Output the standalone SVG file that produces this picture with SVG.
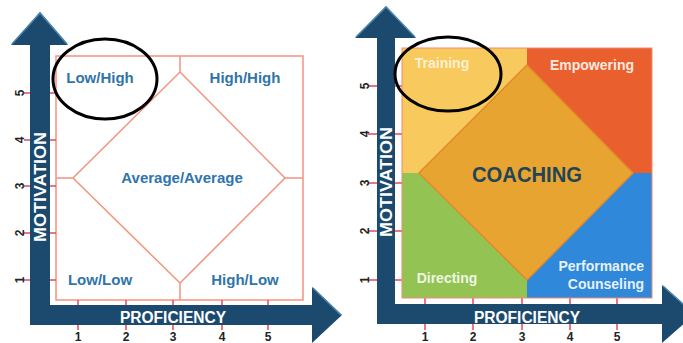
<svg xmlns="http://www.w3.org/2000/svg" width="683" height="343" viewBox="0 0 683 343">
<defs>
<style>
.axis{fill:#1c4a6e}
.bevel{fill:none;stroke:#4a86b0;stroke-width:1.5}
.tick{stroke:#e8485a;stroke-width:1.5}
.num{font-family:"Liberation Sans",Arial,sans-serif;font-size:12px;font-weight:bold;fill:#222}
.axlab{font-family:"Liberation Sans",Arial,sans-serif;font-size:16px;font-weight:bold;fill:#ffffff}
.qlab{font-family:"Liberation Sans",Arial,sans-serif;font-size:15px;font-weight:bold;fill:#2f75aa;text-anchor:middle}
.rlab{font-family:"Liberation Sans",Arial,sans-serif;font-size:14px;font-weight:bold}
.salmon{fill:none;stroke:#f4937d;stroke-width:1.5}
.circ{fill:none;stroke:#000;stroke-width:3}
</style>
</defs>
<rect width="683" height="343" fill="#ffffff"/>

<!-- LEFT CHART -->
<g id="left-grid">
  <rect x="56" y="56" width="247" height="244" class="salmon" fill="#fff"/>
  <path class="salmon" d="M180 56V72M180 283V300M56 178H73M285 178H303M180 72L285 178L180 283L73 178Z"/>
</g>
<g id="left-axes">
  <rect class="axis" x="30" y="44" width="20" height="281"/>
  <rect class="axis" x="30" y="305" width="283" height="20"/>
  <polygon class="axis" points="11,45 40,12 68,45"/>
  <polyline class="bevel" points="12,44 40,13 67,44"/>
  <polygon class="axis" points="312,287 342,315 312,343"/>
  <polyline class="bevel" points="313,288 341,315"/>
  <g class="tick">
    <path d="M24 93H30M50 93H56M24 140H30M50 140H56M24 186H30M50 186H56M24 233H30M50 233H56M24 280H30M50 280H56"/>
    <path d="M78 300V305M78 325V330M126 300V305M126 325V330M173 300V305M173 325V330M222 300V305M222 325V330M268 300V305M268 325V330"/>
  </g>
  <g class="num" text-anchor="middle">
    <text transform="translate(24,93) rotate(-90)">5</text>
    <text transform="translate(24,140) rotate(-90)">4</text>
    <text transform="translate(24,186) rotate(-90)">3</text>
    <text transform="translate(24,233) rotate(-90)">2</text>
    <text transform="translate(24,280) rotate(-90)">1</text>
    <text x="78" y="341">1</text>
    <text x="126" y="341">2</text>
    <text x="173" y="341">3</text>
    <text x="222" y="341">4</text>
    <text x="268" y="341">5</text>
  </g>
  <text class="axlab" x="173" y="323" text-anchor="middle" textLength="106" lengthAdjust="spacingAndGlyphs">PROFICIENCY</text>
  <text class="axlab" transform="translate(46,187) rotate(-90)" text-anchor="middle" textLength="110" lengthAdjust="spacingAndGlyphs" font-size="17">MOTIVATION</text>
</g>
<g id="left-lowhigh"><text class="qlab" x="100" y="83">Low/High</text></g>
<g id="left-highhigh"><text class="qlab" x="245" y="83">High/High</text></g>
<g id="left-average"><text class="qlab" x="182" y="183">Average/Average</text></g>
<g id="left-lowlow"><text class="qlab" x="100" y="285">Low/Low</text></g>
<g id="left-highlow"><text class="qlab" x="245" y="285">High/Low</text></g>
<g id="left-circle"><ellipse class="circ" cx="105" cy="79" rx="52" ry="40"/></g>

<!-- RIGHT CHART -->
<g id="right-axes">
  <rect class="axis" x="377" y="37" width="18" height="287"/>
  <rect class="axis" x="377" y="304" width="290" height="20"/>
  <polygon class="axis" points="355,38 386,6 416,38"/>
  <polyline class="bevel" points="356,37 386,7 415,37"/>
  <polygon class="axis" points="662,285 695,314 662,343"/>
  <polyline class="bevel" points="663,286 694,314"/>
  <g class="tick">
    <path d="M368 86H377M395 86H402M368 134H377M395 134H402M368 183H377M395 183H402M368 231H377M395 231H402M368 280H377M395 280H402"/>
    <path d="M425 298V304M425 324V330M473 298V304M473 324V330M522 298V304M522 324V330M570 298V304M570 324V330M617 298V304M617 324V330"/>
  </g>
  <g class="num" text-anchor="middle">
    <text transform="translate(369,86) rotate(-90)">5</text>
    <text transform="translate(369,134) rotate(-90)">4</text>
    <text transform="translate(369,183) rotate(-90)">3</text>
    <text transform="translate(369,231) rotate(-90)">2</text>
    <text transform="translate(369,280) rotate(-90)">1</text>
    <text x="425" y="341">1</text>
    <text x="473" y="341">2</text>
    <text x="522" y="341">3</text>
    <text x="570" y="341">4</text>
    <text x="617" y="341">5</text>
  </g>
  <text class="axlab" x="527" y="323" text-anchor="middle" textLength="106" lengthAdjust="spacingAndGlyphs">PROFICIENCY</text>
  <text class="axlab" transform="translate(392,182) rotate(-90)" text-anchor="middle" textLength="110" lengthAdjust="spacingAndGlyphs" font-size="17">MOTIVATION</text>
</g>
<g id="training">
  <polygon points="402,48 527,48 527,65 419,173 402,173" fill="#f8c95c"/>
  <text class="rlab" x="442" y="68" text-anchor="middle" fill="#fdf1d2" font-size="13">Training</text>
</g>
<g id="empowering">
  <polygon points="527,48 652,48 652,173 633,173 527,65" fill="#ea5f2e"/>
  <text class="rlab" x="592" y="70" text-anchor="middle" fill="#fde9e0">Empowering</text>
</g>
<g id="directing">
  <polygon points="402,173 419,173 527,280 527,298 402,298" fill="#93c353"/>
  <text class="rlab" x="447" y="283" text-anchor="middle" fill="#eef6e2">Directing</text>
</g>
<g id="performance-counseling">
  <polygon points="527,280 633,173 652,173 652,298 527,298" fill="#2f88da"/>
  <text class="rlab" x="644" y="271" text-anchor="end" fill="#e6f1fb">Performance</text>
  <text class="rlab" x="644" y="289" text-anchor="end" fill="#e6f1fb">Counseling</text>
</g>
<g id="coaching">
  <polygon points="527,65 633,173 527,280 419,173" fill="#e8a431" stroke="#e08a2a" stroke-width="1.5"/>
  <text x="527" y="182" text-anchor="middle" font-family="Liberation Sans, Arial, sans-serif" font-size="22" font-weight="bold" fill="#1f4557" textLength="110" lengthAdjust="spacingAndGlyphs">COACHING</text>
</g>
<g id="right-frame"><rect x="402" y="48" width="250" height="250" fill="none" stroke="#f08a70" stroke-width="1"/></g>
<g id="right-circle"><ellipse class="circ" cx="448" cy="74" rx="53" ry="37"/></g>
</svg>
